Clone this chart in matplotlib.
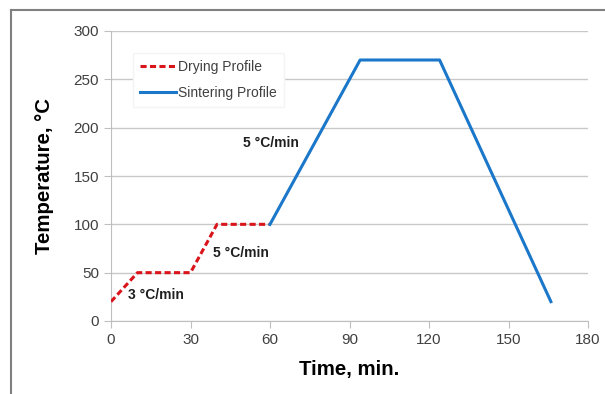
import matplotlib
matplotlib.use("Agg")
import matplotlib.pyplot as plt
from matplotlib.lines import Line2D

plt.rcParams['font.family'] = ['Liberation Sans', 'DejaVu Sans']

dry_t = [0, 10, 30, 40, 60]
dry_T = [20, 50, 50, 100, 100]
sint_t = [60, 94, 124, 166]
sint_T = [100, 270, 270, 20]
xticks = [0, 30, 60, 90, 120, 150, 180]
yticks = [0, 50, 100, 150, 200, 250, 300]
annotations = [("3 °C/min", 6.4, 27), ("5 °C/min", 38.5, 70), ("5 °C/min", 49.8, 184)]

fig = plt.figure(figsize=(6.05, 3.94), dpi=100)
ax = fig.add_axes([111/605, 1-321/394, 477/605, 290/394])

ax.plot(dry_t, dry_T, color='#d9141b', lw=2.2, ls=(0, (2.0, 1.1)), label='Drying Profile', zorder=3)
ax.plot(sint_t, sint_T, color='#1a77c9', lw=2.2, label='Sintering Profile', zorder=3)

ax.set_xlim(0, 180)
ax.set_ylim(0, 300)
ax.set_xticks(xticks)
ax.set_yticks(yticks)
ax.grid(axis='y', color='#c8c8c8', lw=1)
ax.set_axisbelow(True)
for s in ['top', 'right']:
    ax.spines[s].set_visible(False)
for s in ['left', 'bottom']:
    ax.spines[s].set_color('#bfbfbf')
ax.tick_params(axis='both', colors='#bfbfbf', labelcolor='#404040', labelsize=11, length=5)
ax.tick_params(axis='x', pad=4)

ax.set_xlabel('Time, min.', fontsize=14.7, fontweight='bold', labelpad=9)
ax.set_ylabel('Temperature, °C', fontsize=14.7, fontweight='bold', labelpad=14)

for txt, x, y in annotations:
    ax.text(x, y, txt, fontsize=10, fontweight='bold', color='#1f1f1f', va='center', ha='left')

leg = ax.legend(loc='upper left', bbox_to_anchor=(0.046, 0.925), fontsize=10, frameon=True,
                fancybox=False, edgecolor='#f4f4f4', framealpha=1, handlelength=2.6,
                handletextpad=0.15, borderpad=0.5, labelspacing=0.9, borderaxespad=0)
for t in leg.get_texts():
    t.set_color('#404040')

fig.add_artist(Line2D([11/605, 11/605], [1-10/394, 0], transform=fig.transFigure, color='#808080', lw=1.5))
fig.add_artist(Line2D([11/605, 1], [1-10/394, 1-10/394], transform=fig.transFigure, color='#808080', lw=1.5))

fig.savefig('out.png', dpi=100)
